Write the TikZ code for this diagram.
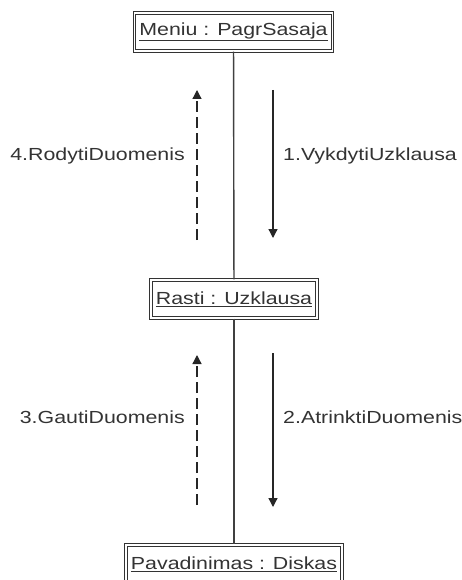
\documentclass[tikz,border=0pt]{standalone}
\usepackage{fontspec}
\setmainfont{Liberation Sans}[FakeStretch=1.22]
\usetikzlibrary{arrows.meta,positioning}

\begin{document}
\begin{tikzpicture}[x=1pt, y=-1pt,
            every node/.style={font=\fontsize{17.5}{20}\selectfont, text=black!80},
            object/.style={draw=black!80, double, double distance=1.3pt, line width=1.1pt,
                           minimum height=38pt, inner xsep=5pt},
            lbl/.style={inner sep=0pt},
            life/.style={draw=black!75, line width=1.4pt},
            call/.style={draw=black!85, line width=1.3pt, -{Triangle[width=9pt,length=9pt]}},
            reply/.style={call, dash pattern=on 11pt off 5pt}]
        \useasboundingbox (0,0) rectangle (461,580);
        \clip (0,0) rectangle (461,580);

        % objects
        \node[object] (meniu) at (233.5,32) {\underline{Meniu : PagrSasaja}};
        \node[object] (rasti) at (234,299) {\underline{Rasti : Uzklausa}};
        \node[object] (diskas) at (234,564) {\underline{Pavadinimas : Diskas}};

        % links
        \draw[life] (meniu) -- (rasti);
        \draw[life] (rasti) -- (diskas);

        % messages
        \coordinate (vyk1) at (273,90);  \coordinate (vyk2) at (273,238);
        \coordinate (rod1) at (197,240); \coordinate (rod2) at (197,90);
        \coordinate (atr1) at (273,353); \coordinate (atr2) at (273,507);
        \coordinate (gau1) at (197,505); \coordinate (gau2) at (197,355);
        \draw[call] (vyk1) -- (vyk2);
        \draw[reply] (rod1) -- (rod2);
        \draw[call] (atr1) -- (atr2);
        \draw[reply] (gau1) -- (gau2);

        \coordinate (vykm) at (273,156);
        \coordinate (rodm) at (197,156);
        \coordinate (atrm) at (273,417);
        \coordinate (gaum) at (197,417);
        \node[lbl, right=10pt of vykm] (vyklbl) {1.VykdytiUzklausa};
        \node[lbl, left=12pt of rodm] (rodlbl) {4.RodytiDuomenis};
        \node[lbl, right=10pt of atrm] (atrlbl) {2.AtrinktiDuomenis};
        \node[lbl, left=12pt of gaum] (gaulbl) {3.GautiDuomenis};
\end{tikzpicture}
\end{document}
